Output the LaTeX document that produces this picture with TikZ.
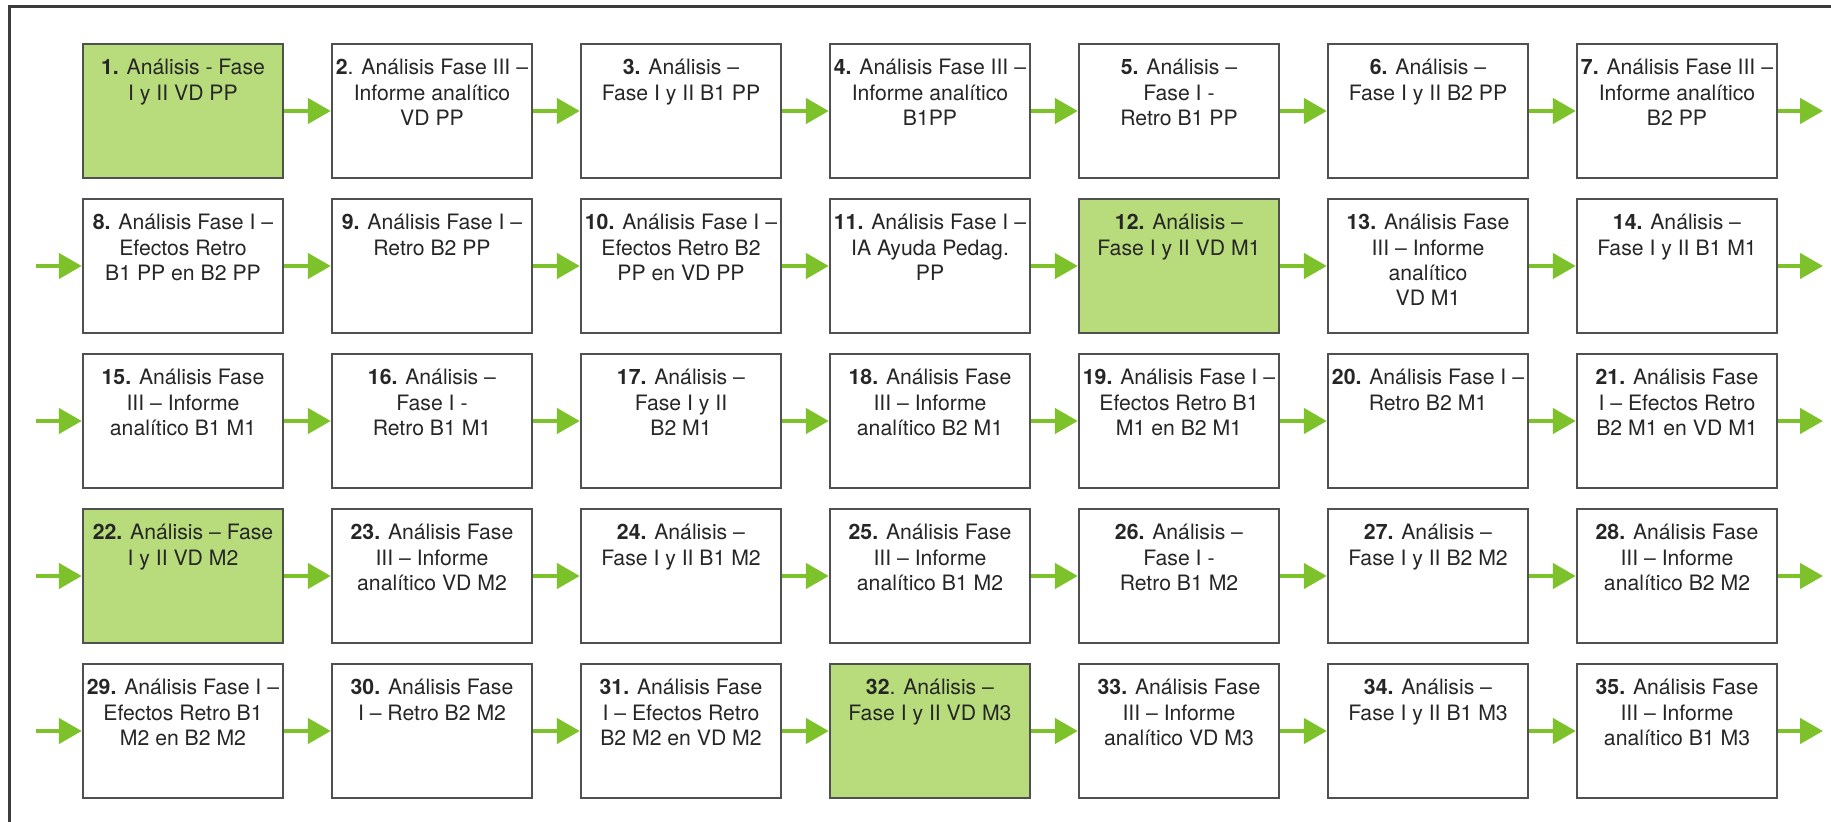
\documentclass[tikz,border=0pt]{standalone}
\usepackage{fontspec}
\setmainfont{TeX Gyre Heros}
\usetikzlibrary{arrows.meta}

\definecolor{boxline}{HTML}{505050}
\definecolor{frameline}{HTML}{3C3C3C}
\definecolor{hlgreen}{HTML}{B8DC7C}
\definecolor{arrowgreen}{HTML}{7DC22A}

% text block of a stage: fixed height, top aligned, centred lines
\newcommand\stagetext[1]{\parbox[c][67pt][t]{100pt}{\centering\rule{0pt}{15.5pt}#1}}

\tikzset{
  stage/.style={draw=boxline, line width=1.2pt, fill=white, rectangle,
    minimum width=100pt, minimum height=67pt, inner sep=0pt,
    font=\fontsize{10.6pt}{12.6pt}\selectfont, text=black!85},
  stagehl/.style={stage, fill=hlgreen},
  flow/.style={draw=arrowgreen, line width=2.3pt,
    -{Triangle[length=11.5pt,width=12.5pt]}},
  frame/.style={draw=frameline, line width=1.6pt}
}

\begin{document}
\begin{tikzpicture}[x=0.5pt,y=-0.5pt]
\useasboundingbox (0,0) rectangle (1831,822);
\fill[white] (0,0) rectangle (1831,822);

% outer frame, open towards the right and the bottom
\draw[frame] (9.5,830) -- (9.5,6.5) -- (1840,6.5);

% row 1
\node[stagehl] (s1) at (183,111) {\stagetext{\textbf{1.} Análisis - Fase\\I y II VD PP}};
\node[stage] (s2) at (432,111) {\stagetext{\textbf{2}. Análisis Fase III –\\Informe analítico\\VD PP}};
\node[stage] (s3) at (681,111) {\stagetext{\textbf{3.} Análisis –\\Fase I y II B1 PP}};
\node[stage] (s4) at (930,111) {\stagetext{\textbf{4.} Análisis Fase III –\\Informe analítico\\B1PP}};
\node[stage] (s5) at (1179,111) {\stagetext{\textbf{5.} Análisis –\\Fase I -\\Retro B1 PP}};
\node[stage] (s6) at (1428,111) {\stagetext{\textbf{6.} Análisis –\\Fase I y II B2 PP}};
\node[stage] (s7) at (1677,111) {\stagetext{\textbf{7.} Análisis Fase III –\\Informe analítico\\B2 PP}};

% row 2
\node[stage] (s8) at (183,266) {\stagetext{\textbf{8.} Análisis Fase I –\\Efectos Retro\\B1 PP en B2 PP}};
\node[stage] (s9) at (432,266) {\stagetext{\textbf{9.} Análisis Fase I –\\Retro B2 PP}};
\node[stage] (s10) at (681,266) {\stagetext{\textbf{10.} Análisis Fase I –\\Efectos Retro B2\\PP en VD PP}};
\node[stage] (s11) at (930,266) {\stagetext{\textbf{11.} Análisis Fase I –\\IA Ayuda Pedag.\\PP}};
\node[stagehl] (s12) at (1179,266) {\stagetext{\textbf{12.} Análisis –\\Fase I y II VD M1}};
\node[stage] (s13) at (1428,266) {\stagetext{\textbf{13.} Análisis Fase\\III – Informe\\analítico\\VD M1}};
\node[stage] (s14) at (1677,266) {\stagetext{\textbf{14.} Análisis –\\Fase I y II B1 M1}};

% row 3
\node[stage] (s15) at (183,421) {\stagetext{\textbf{15.} Análisis Fase\\III – Informe\\analítico B1 M1}};
\node[stage] (s16) at (432,421) {\stagetext{\textbf{16.} Análisis –\\Fase I -\\Retro B1 M1}};
\node[stage] (s17) at (681,421) {\stagetext{\textbf{17.} Análisis –\\Fase I y II\\B2 M1}};
\node[stage] (s18) at (930,421) {\stagetext{\textbf{18.} Análisis Fase\\III – Informe\\analítico B2 M1}};
\node[stage] (s19) at (1179,421) {\stagetext{\textbf{19.} Análisis Fase I –\\Efectos Retro B1\\M1 en B2 M1}};
\node[stage] (s20) at (1428,421) {\stagetext{\textbf{20.} Análisis Fase I –\\Retro B2 M1}};
\node[stage] (s21) at (1677,421) {\stagetext{\textbf{21.} Análisis Fase\\I – Efectos Retro\\B2 M1 en VD M1}};

% row 4
\node[stagehl] (s22) at (183,576) {\stagetext{\textbf{22.} Análisis – Fase\\I y II VD M2}};
\node[stage] (s23) at (432,576) {\stagetext{\textbf{23.} Análisis Fase\\III – Informe\\analítico VD M2}};
\node[stage] (s24) at (681,576) {\stagetext{\textbf{24.} Análisis –\\Fase I y II B1 M2}};
\node[stage] (s25) at (930,576) {\stagetext{\textbf{25.} Análisis Fase\\III – Informe\\analítico B1 M2}};
\node[stage] (s26) at (1179,576) {\stagetext{\textbf{26.} Análisis –\\Fase I -\\Retro B1 M2}};
\node[stage] (s27) at (1428,576) {\stagetext{\textbf{27.} Análisis –\\Fase I y II B2 M2}};
\node[stage] (s28) at (1677,576) {\stagetext{\textbf{28.} Análisis Fase\\III – Informe\\analítico B2 M2}};

% row 5
\node[stage] (s29) at (183,731) {\stagetext{\textbf{29.} Análisis Fase I –\\Efectos Retro B1\\M2 en B2 M2}};
\node[stage] (s30) at (432,731) {\stagetext{\textbf{30.} Análisis Fase\\I – Retro B2 M2}};
\node[stage] (s31) at (681,731) {\stagetext{\textbf{31.} Análisis Fase\\I – Efectos Retro\\B2 M2 en VD M2}};
\node[stagehl] (s32) at (930,731) {\stagetext{\textbf{32}. Análisis –\\Fase I y II VD M3}};
\node[stage] (s33) at (1179,731) {\stagetext{\textbf{33.} Análisis Fase\\III – Informe\\analítico VD M3}};
\node[stage] (s34) at (1428,731) {\stagetext{\textbf{34.} Análisis –\\Fase I y II B1 M3}};
\node[stage] (s35) at (1677,731) {\stagetext{\textbf{35.} Análisis Fase\\III – Informe\\analítico B1 M3}};

% free ends of the arrows leaving and entering each row
\foreach \r/\y in {1/111,2/266,3/421,4/576,5/731}{
  \coordinate (out\r) at (1823,\y);
  \coordinate (in\r) at (36,\y);
}

% arrows inside each row
\foreach \a/\b in {1/2,2/3,3/4,4/5,5/6,6/7,
                   8/9,9/10,10/11,11/12,12/13,13/14,
                   15/16,16/17,17/18,18/19,19/20,20/21,
                   22/23,23/24,24/25,25/26,26/27,27/28,
                   29/30,30/31,31/32,32/33,33/34,34/35}{
  \draw[flow] (s\a.east) -- (s\b.west);
}

% arrows leaving the last stage of each row
\draw[flow] (s7.east) -- (out1);
\draw[flow] (s14.east) -- (out2);
\draw[flow] (s21.east) -- (out3);
\draw[flow] (s28.east) -- (out4);
\draw[flow] (s35.east) -- (out5);

% arrows entering the first stage of rows 2 to 5
\draw[flow] (in2) -- (s8.west);
\draw[flow] (in3) -- (s15.west);
\draw[flow] (in4) -- (s22.west);
\draw[flow] (in5) -- (s29.west);
\end{tikzpicture}
\end{document}
